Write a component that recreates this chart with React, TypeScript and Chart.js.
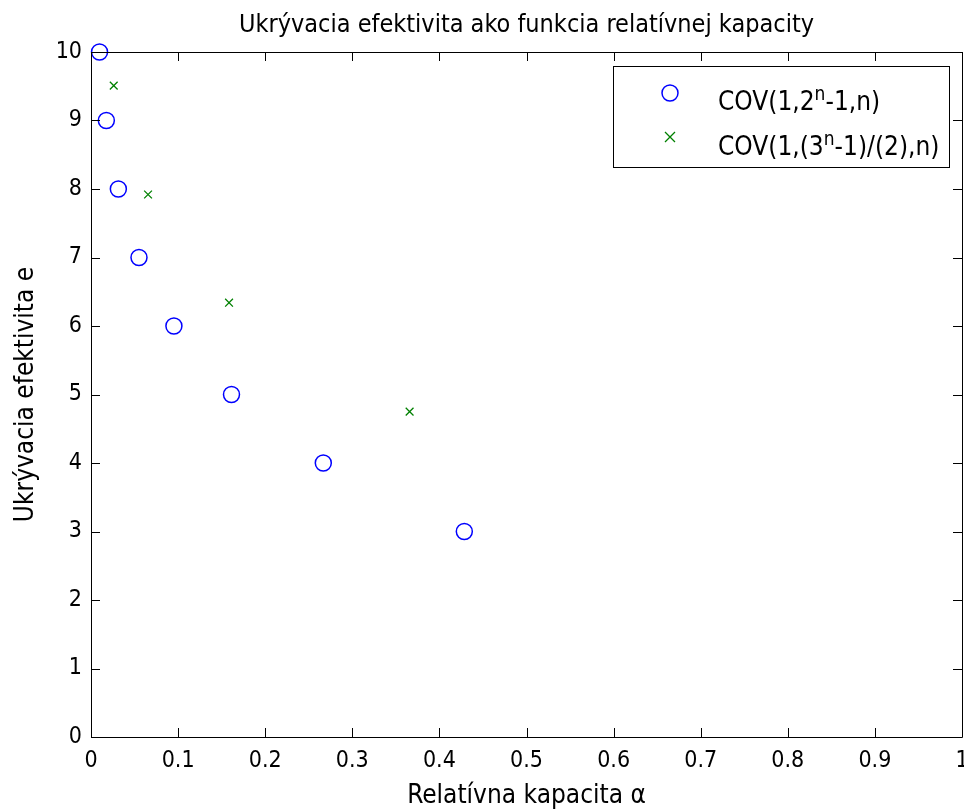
import React, { useEffect, useRef } from 'react';
import { Chart, registerables } from 'chart.js';

Chart.register(...registerables);

const FONT = '"Liberation Sans Narrow", "DejaVu Sans Condensed", "Liberation Sans", sans-serif';
const TICK_SIZE = 23;
const TITLE_SIZE = 25;
const LABEL_SIZE = 26;
const LEGEND_SIZE = 26;

const titleText = 'Ukrývacia efektivita ako funkcia relatívnej kapacity';
const xAxisLabel = 'Relatívna kapacita α';
const yAxisLabel = 'Ukrývacia efektivita e';

const binaryAlpha = [0.0098, 0.0176, 0.0314, 0.0551, 0.0952, 0.1613, 0.2667, 0.4286];
const binaryE = [10, 9, 8, 7, 6, 5, 4, 3];
const ternaryAlpha = [0.0261, 0.0655, 0.1585, 0.3658];
const ternaryE = [9.51, 7.92, 6.34, 4.75];

const xTickValues = [0, 0.1, 0.2, 0.3, 0.4, 0.5, 0.6, 0.7, 0.8, 0.9, 1];
const xTickLabels = ['0', '0.1', '0.2', '0.3', '0.4', '0.5', '0.6', '0.7', '0.8', '0.9', '1'];
const yTickValues = [0, 1, 2, 3, 4, 5, 6, 7, 8, 9, 10];
const yTickLabels = ['0', '1', '2', '3', '4', '5', '6', '7', '8', '9', '10'];

const legend1 = [
  { t: 'COV(1,2' },
  { t: 'n', sup: true },
  { t: '-1,n)' },
];
const legend2 = [
  { t: 'COV(1,(3' },
  { t: 'n', sup: true },
  { t: '-1)/(2),n)' },
];

const BLUE = '#0000ff';
const GREEN = '#008000';

function drawParts(ctx: CanvasRenderingContext2D, parts: { t: string; sup?: boolean }[], x: number, y: number) {
  let cx = x;
  for (const p of parts) {
    if (p.sup) {
      ctx.font = `${Math.round(LEGEND_SIZE * 0.72)}px ${FONT}`;
      ctx.fillText(p.t, cx, y - 10);
    } else {
      ctx.font = `${LEGEND_SIZE}px ${FONT}`;
      ctx.fillText(p.t, cx, y);
    }
    cx += ctx.measureText(p.t).width;
  }
}

const zeroPad = () => ({ left: 0, top: 0, right: 0, bottom: 0 });

const decorPlugin = {
  id: 'decor',
  afterDatasetsDraw(chart: any) {
    const ctx: CanvasRenderingContext2D = chart.ctx;
    const xs = chart.scales.x;
    const ys = chart.scales.y;
    const { left, right, top, bottom } = chart.chartArea;
    ctx.save();
    ctx.strokeStyle = '#000';
    ctx.lineWidth = 1;
    ctx.beginPath();
    ctx.rect(Math.round(left) + 0.5, Math.round(top) + 0.5, Math.round(right - left), Math.round(bottom - top));
    ctx.stroke();
    const TL = 9;
    ctx.beginPath();
    for (const v of xTickValues) {
      const px = Math.round(xs.getPixelForValue(v)) + 0.5;
      ctx.moveTo(px, bottom);
      ctx.lineTo(px, bottom - TL);
      ctx.moveTo(px, top);
      ctx.lineTo(px, top + TL);
    }
    for (const v of yTickValues) {
      const py = Math.round(ys.getPixelForValue(v)) + 0.5;
      ctx.moveTo(left, py);
      ctx.lineTo(left + TL, py);
      ctx.moveTo(right, py);
      ctx.lineTo(right - TL, py);
    }
    ctx.stroke();

    // title
    ctx.fillStyle = '#000';
    ctx.textAlign = 'center';
    ctx.textBaseline = 'alphabetic';
    ctx.font = `${TITLE_SIZE}px ${FONT}`;
    ctx.fillText(titleText, (left + right) / 2, 32);
    // x label
    ctx.font = `${LABEL_SIZE}px ${FONT}`;
    ctx.fillText(xAxisLabel, (left + right) / 2, 803);
    // y label
    ctx.save();
    ctx.translate(33, (top + bottom) / 2);
    ctx.rotate(-Math.PI / 2);
    ctx.fillText(yAxisLabel, 0, 0);
    ctx.restore();

    // legend
    const lx = 613, ly = 66, lw = 336, lh = 101;
    ctx.fillStyle = '#fff';
    ctx.fillRect(lx, ly, lw, lh);
    ctx.strokeStyle = '#000';
    ctx.lineWidth = 1;
    ctx.strokeRect(lx + 0.5, ly + 0.5, lw, lh);
    ctx.strokeStyle = BLUE;
    ctx.lineWidth = 1.5;
    ctx.beginPath();
    ctx.arc(670, 93, 8, 0, Math.PI * 2);
    ctx.stroke();
    ctx.strokeStyle = GREEN;
    ctx.lineWidth = 1.3;
    ctx.beginPath();
    ctx.moveTo(665, 132);
    ctx.lineTo(675, 142);
    ctx.moveTo(675, 132);
    ctx.lineTo(665, 142);
    ctx.stroke();
    ctx.fillStyle = '#000';
    ctx.textAlign = 'left';
    drawParts(ctx, legend1, 718, 110);
    drawParts(ctx, legend2, 718, 155);
    ctx.restore();
  },
};

export default function App() {
  const ref = useRef<HTMLCanvasElement | null>(null);
  useEffect(() => {
    if (!ref.current) return;
    const chart = new Chart(ref.current, {
      type: 'scatter',
      data: {
        datasets: [
          {
            label: 'COV(1,2^n-1,n)',
            data: binaryAlpha.map((x, i) => ({ x, y: binaryE[i] })),
            pointStyle: 'circle',
            pointRadius: 8,
            pointBorderWidth: 1.5,
            borderColor: BLUE,
            backgroundColor: 'rgba(0,0,0,0)',
            showLine: false,
            clip: false,
          },
          {
            label: 'COV(1,(3^n-1)/(2),n)',
            data: ternaryAlpha.map((x, i) => ({ x, y: ternaryE[i] })),
            pointStyle: 'crossRot',
            pointRadius: 5.5,
            pointBorderWidth: 1.3,
            borderColor: GREEN,
            backgroundColor: GREEN,
            showLine: false,
            clip: false,
          },
        ],
      },
      options: {
        animation: false,
        responsive: false,
        maintainAspectRatio: false,
        layout: { autoPadding: false, padding: { top: 52, right: 2, left: 0, bottom: 0 } },
        plugins: { legend: { display: false }, title: { display: false }, tooltip: { enabled: false } },
        scales: {
          x: {
            type: 'linear',
            min: 0,
            max: 1,
            afterFit: (s: any) => {
              s.height = 75;
              s.paddingLeft = 0;
              s.paddingRight = 0;
              s.getPadding = zeroPad;
            },
            afterBuildTicks: (s: any) => { s.ticks = xTickValues.map((v) => ({ value: v })); },
            grid: { display: false, drawTicks: false },
            border: { display: false },
            ticks: {
              color: '#000',
              font: { family: FONT, size: TICK_SIZE },
              padding: 10,
              maxRotation: 0,
              autoSkip: false,
              callback: (_v: any, i: number) => xTickLabels[i],
            },
          },
          y: {
            type: 'linear',
            min: 0,
            max: 10,
            afterFit: (s: any) => {
              s.width = 91;
              s.paddingTop = 0;
              s.paddingBottom = 0;
              s.getPadding = zeroPad;
            },
            afterBuildTicks: (s: any) => { s.ticks = yTickValues.map((v) => ({ value: v })); },
            grid: { display: false, drawTicks: false },
            border: { display: false },
            ticks: {
              color: '#000',
              font: { family: FONT, size: TICK_SIZE },
              padding: 9,
              autoSkip: false,
              callback: (_v: any, i: number) => yTickLabels[i],
            },
          },
        },
      },
      plugins: [decorPlugin],
    });
    return () => chart.destroy();
  }, []);
  return (
    <div style={{ position: 'absolute', left: 0, top: 0, width: 964, height: 812, background: '#fff' }}>
      <canvas ref={ref} width={964} height={812} style={{ width: 964, height: 812 }} />
    </div>
  );
}
